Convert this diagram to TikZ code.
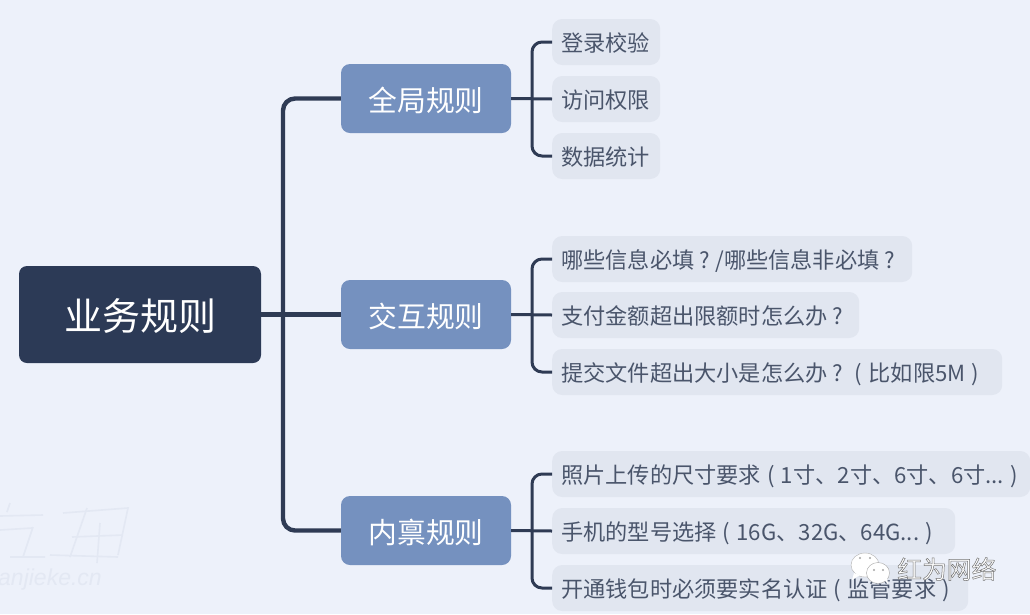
\documentclass[tikz,border=0pt]{standalone}
\usepackage{fontspec}
\setmainfont{Noto Sans CJK SC}
\newfontfamily\urlfont{Liberation Sans}
\usepackage{tikz}
\usetikzlibrary{positioning, calc}
\definecolor{pagebg}{HTML}{EDF1FA}
\definecolor{rootfill}{HTML}{2C3A56}
\definecolor{midfill}{HTML}{7591BF}
\definecolor{leaffill}{HTML}{E1E6F0}
\definecolor{leaftext}{HTML}{4A556B}
\definecolor{linkcol}{HTML}{2F3B54}
\definecolor{markcol}{HTML}{E3E8F3}
\newcommand{\qmark}{\makebox[0.95em][c]{?}}
\newcommand{\lparen}{\makebox[0.9em][c]{(}}
\newcommand{\rparen}{\makebox[0.9em][c]{)}}
\tikzset{
    rootbox/.style={fill=rootfill, text=white, rounded corners=8pt, minimum width=242pt, minimum height=97pt, inner sep=0pt, text height=33pt, text depth=2pt, font=\fontsize{38}{44}\selectfont},
    midbox/.style={fill=midfill, text=white, rounded corners=9pt, minimum width=170pt, minimum height=69pt, inner sep=0pt, text height=27pt, text depth=2pt, font=\fontsize{28.8}{34}\selectfont},
    leafbox/.style={fill=leaffill, text=leaftext, rounded corners=10pt, anchor=west, minimum height=46pt, inner ysep=0pt, inner xsep=9pt, text width=#1pt-18pt, text height=22pt, text depth=3pt, align=left, font=\fontsize{22.2}{27}\selectfont},
    trunk/.style={draw=linkcol, line width=4.4pt, rounded corners=12pt},
    twig/.style={draw=linkcol, line width=3pt, rounded corners=10pt},
}
\begin{document}
\begin{tikzpicture}[x=1pt, y=-1pt]
    \useasboundingbox (0,0) rectangle (1030,614);
    \fill[pagebg] (0,0) rectangle (1030,614);

    % watermark
    \node[text=markcol, font=\urlfont\itshape\fontsize{23}{27}\selectfont, anchor=west, inner sep=0pt] (markurl) at (-2,580) {anjieke.cn};
    \draw[markcol, line width=1.6pt] (10,503) -- (7,512) (0,516) -- (43,515) (0,530) -- (32,528) (33,527) -- (23,557) (10,557) -- (45,557)
        (63,513) -- (128,508) -- (118,555) (72,537) -- (123,535) (50,555) -- (118,557) (100,523) -- (97,563) (87,508) -- (70,557);

    \node[rootbox] (root) at (140,314.5) {业务规则};
    \node[midbox] (mid1) at (426,98.5) {全局规则};
    \node[midbox] (mid2) at (426,314.5) {交互规则};
    \node[midbox] (mid3) at (426,530.5) {内禀规则};

    \node[leafbox=108] (leaf11) at (552,42) {登录校验};
    \node[leafbox=108] (leaf12) at (552,99) {访问权限};
    \node[leafbox=108] (leaf13) at (552,156) {数据统计};
    \node[leafbox=360] (leaf21) at (552,259) {哪些信息必填\qmark/哪些信息非必填\qmark};
    \node[leafbox=307] (leaf22) at (552,315) {支付金额超出限额时怎么办\qmark};
    \node[leafbox=450] (leaf23) at (552,372) {提交文件超出大小是怎么办\qmark\lparen 比如限5M\rparen};
    \node[leafbox=478] (leaf31) at (552,474) {照片上传的尺寸要求\lparen 1寸、2寸、6寸、6寸...\rparen};
    \node[leafbox=403] (leaf32) at (552,531) {手机的型号选择\lparen 16G、32G、64G...\rparen};
    \node[leafbox=416] (leaf33) at (552,588) {开通钱包时必须要实名认证\lparen 监管要求\rparen};

    % connectors
    \coordinate (trunkx) at (283,314.5);
    \draw[trunk] (mid1.west) -| (trunkx) |- (mid3.west);
    \draw[trunk] (root.east) -- (mid2.west);

    \coordinate (fork1) at (532,98.5);
    \coordinate (fork2) at (532,314.5);
    \coordinate (fork3) at (532,530.5);
    \draw[twig] (mid1.east) -- (leaf12.west);
    \draw[twig] (leaf11.west) -| (fork1) |- (leaf13.west);
    \draw[twig] (mid2.east) -- (leaf22.west);
    \draw[twig] (leaf21.west) -| (fork2) |- (leaf23.west);
    \draw[twig] (mid3.east) -- (leaf32.west);
    \draw[twig] (leaf31.west) -| (fork3) |- (leaf33.west);

    % wechat mark
    \fill[white, draw=gray!60, line width=0.4pt] (865,565) ellipse (14pt and 12pt);
    \fill[white] (854,573) -- (852,580) -- (860,575) -- cycle;
    \fill[white, draw=gray!70, line width=0.4pt] (878,573) ellipse (11.5pt and 10.5pt);
    \fill[white] (884,580) -- (888,584) -- (887,577) -- cycle;
    \fill[gray!70] (860,558) circle (1.1pt) (870,558) circle (1.1pt) (874,570) circle (1.1pt) (883,570) circle (1.1pt);
    \node[text=white, font=\fontsize{24.8}{29}\selectfont, anchor=west, inner sep=0pt] (brand) at (897,569) {\special{pdf:code q 2 Tr 0.5 w 0.45 G}红为网络\special{pdf:code Q}};
\end{tikzpicture}
\end{document}
